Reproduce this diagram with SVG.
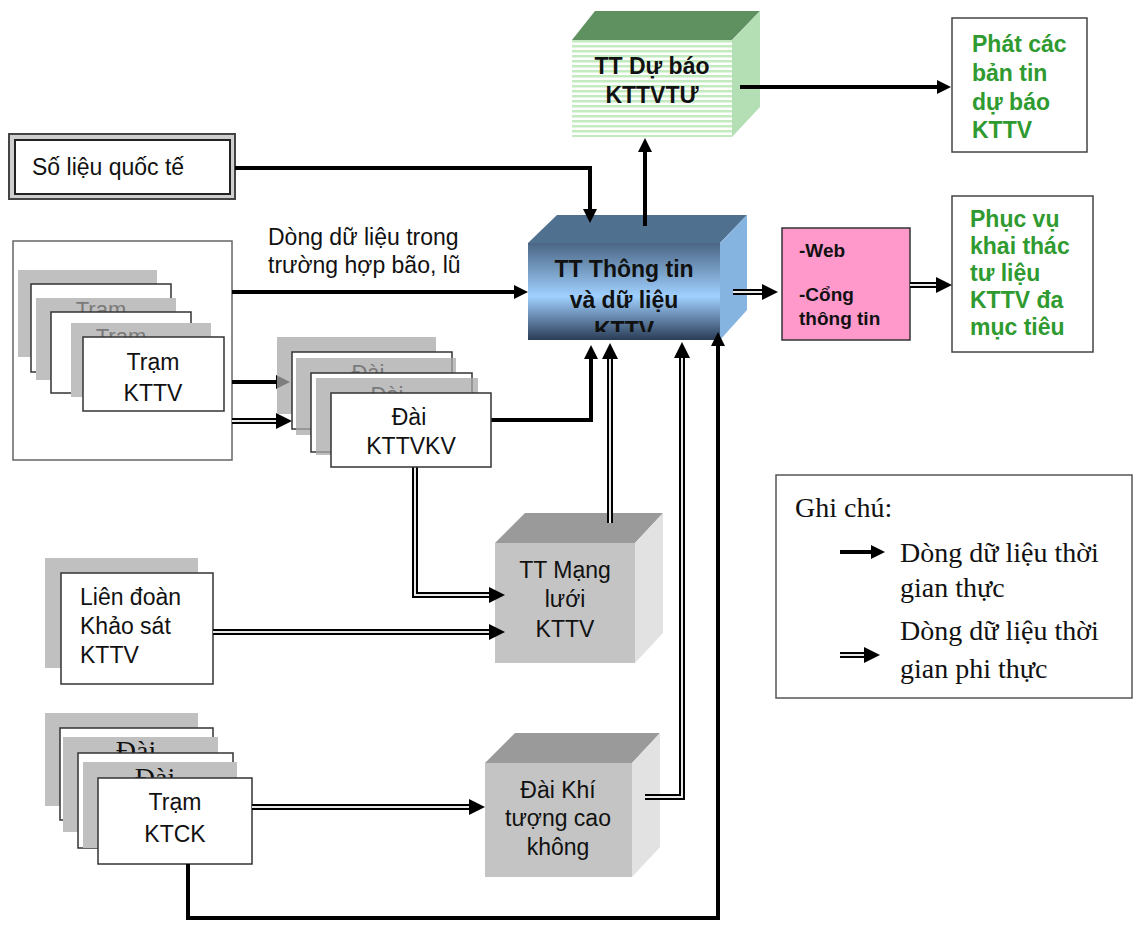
<svg xmlns="http://www.w3.org/2000/svg" width="1134" height="926" viewBox="0 0 1134 926">
<defs>
  <marker id="ah" markerUnits="userSpaceOnUse" markerWidth="15" markerHeight="15" refX="0" refY="7" orient="auto">
    <path d="M0,0 L14,7 L0,14 z" fill="#000"/>
  </marker>
  <marker id="ah2" markerUnits="userSpaceOnUse" markerWidth="17" markerHeight="17" refX="0" refY="8" orient="auto">
    <path d="M0,0 L16,8 L0,16 z" fill="#000"/>
  </marker>
  <linearGradient id="blueFront" x1="0" y1="0" x2="0" y2="1">
    <stop offset="0" stop-color="#4a6684"/>
    <stop offset="0.55" stop-color="#a0d0ff"/>
    <stop offset="1" stop-color="#2a3c56"/>
  </linearGradient>
  <pattern id="stripes" patternUnits="userSpaceOnUse" width="10" height="5">
    <rect width="10" height="5" fill="#ffffff"/>
    <rect width="10" height="2.5" fill="#c4eac0"/>
  </pattern>
  <clipPath id="ttClip"><rect x="528" y="243" width="192" height="89"/></clipPath>
  <style>
    .sans{font-family:"Liberation Sans",Arial,sans-serif;font-size:23px;fill:#111}
    .bold{font-weight:bold}
    .green{fill:#2f9a2f;font-weight:bold}
    .ghost{fill:#7a7a7a;font-size:22px}
    .pink{font-size:19px}
    .serif{font-family:"Liberation Serif","Times New Roman",serif;font-size:28px;fill:#111}
    .card{fill:#fff;stroke:#333;stroke-width:1.5}
    .shadow{fill:#c0c0c0}
    .box{fill:#fff;stroke:#444;stroke-width:1.5}
    .solid{fill:none;stroke:#000;stroke-width:4;marker-end:url(#ah)}
    .dblO{fill:none;stroke:#000;stroke-width:6;marker-end:url(#ah2);stroke-linejoin:miter}
    .dblI{fill:none;stroke:#e8e8e8;stroke-width:2;stroke-linejoin:miter}
  </style>
</defs>
<rect width="1134" height="926" fill="#fff"/>

<!-- TT Dự báo KTTVTƯ (green cube) -->
<g id="tt-du-bao">
  <polygon points="572,40 595,11 760,11 732,40" fill="#5f9060"/>
  <polygon points="732,40 760,11 760,107 732,137" fill="#b4deb4"/>
  <rect x="572" y="40" width="160" height="97" fill="url(#stripes)"/>
  <text class="sans bold" x="652" y="74" text-anchor="middle">TT Dự báo</text>
  <text class="sans bold" x="652" y="103" text-anchor="middle">KTTVTƯ</text>
</g>

<!-- Phát các bản tin -->
<g id="phat-ban-tin">
  <rect class="box" x="952" y="18" width="135" height="134"/>
  <text class="sans green" x="972" y="52">Phát các</text>
  <text class="sans green" x="972" y="81">bản tin</text>
  <text class="sans green" x="972" y="110">dự báo</text>
  <text class="sans green" x="972" y="138">KTTV</text>
</g>

<!-- Số liệu quốc tế -->
<g id="so-lieu-quoc-te">
  <rect x="9" y="134" width="226" height="65" fill="#cfcfcf" stroke="#444" stroke-width="2"/>
  <rect x="15" y="140" width="215" height="54" fill="#fff" stroke="#222" stroke-width="2"/>
  <text class="sans" x="32" y="175">Số liệu quốc tế</text>
</g>

<!-- TT Thông tin và dữ liệu KTTV (blue cube) -->
<g id="tt-thong-tin">
  <polygon points="528,243 557,215 747,215 720,243" fill="#50708f"/>
  <polygon points="720,243 747,215 747,310 720,340" fill="#86b4e0"/>
  <rect x="528" y="243" width="192" height="97" fill="url(#blueFront)"/>
  <text class="sans bold" x="624" y="277" text-anchor="middle">TT Thông tin</text>
  <text class="sans bold" x="624" y="308" text-anchor="middle">và dữ liệu</text>
  <text class="sans bold" x="624" y="338" text-anchor="middle" clip-path="url(#ttClip)">KTTV</text>
</g>

<!-- Web / Cổng thông tin -->
<g id="web-cong-thong-tin">
  <rect x="782" y="228" width="128" height="112" fill="#ff99cc" stroke="#333" stroke-width="1.5"/>
  <text class="sans bold pink" x="799" y="257">-Web</text>
  <text class="sans bold pink" x="799" y="301">-Cổng</text>
  <text class="sans bold pink" x="799" y="325">thông tin</text>
</g>

<!-- Phục vụ khai thác -->
<g id="phuc-vu">
  <rect class="box" x="952" y="196" width="141" height="156"/>
  <text class="sans green" x="970" y="227">Phục vụ</text>
  <text class="sans green" x="970" y="254">khai thác</text>
  <text class="sans green" x="970" y="281">tư liệu</text>
  <text class="sans green" x="970" y="308">KTTV đa</text>
  <text class="sans green" x="970" y="335">mục tiêu</text>
</g>

<!-- Trạm KTTV stack -->
<g id="tram-kttv">
  <rect x="13" y="241" width="219" height="219" fill="#fff" stroke="#666" stroke-width="1.5"/>
  <rect class="shadow" x="18" y="270" width="139" height="87"/>
  <rect class="card" x="31" y="284" width="140" height="88"/>
  <rect class="shadow" x="36" y="298" width="140" height="82"/>
  <text class="sans ghost" x="101" y="317" text-anchor="middle">Trạm</text>
  <rect class="card" x="51" y="312" width="140" height="81"/>
  <rect class="shadow" x="71" y="323" width="140" height="74"/>
  <text class="sans ghost" x="121" y="344" text-anchor="middle">Trạm</text>
  <rect class="card" x="83" y="337" width="141" height="74"/>
  <text class="sans" x="153" y="370" text-anchor="middle">Trạm</text>
  <text class="sans" x="153" y="401" text-anchor="middle">KTTV</text>
</g>

<!-- Liên đoàn Khảo sát KTTV -->
<g id="lien-doan">
  <rect class="shadow" x="45" y="558" width="153" height="110"/>
  <rect class="card" x="61" y="573" width="152" height="111"/>
  <text class="sans" x="80" y="605">Liên đoàn</text>
  <text class="sans" x="80" y="634">Khảo sát</text>
  <text class="sans" x="80" y="663">KTTV</text>
</g>

<!-- TT Mạng lưới KTTV -->
<g id="tt-mang-luoi">
  <polygon points="495,543 525,513 663,513 635,543" fill="#9a9a9a"/>
  <polygon points="635,543 663,513 663,633 635,663" fill="#e2e2e2"/>
  <rect x="495" y="543" width="140" height="120" fill="#c4c4c4"/>
  <text class="sans" x="565" y="578" text-anchor="middle">TT Mạng</text>
  <text class="sans" x="565" y="607" text-anchor="middle">lưới</text>
  <text class="sans" x="565" y="637" text-anchor="middle">KTTV</text>
</g>

<!-- Trạm KTCK stack -->
<g id="tram-ktck">
  <rect class="shadow" x="45" y="713" width="153" height="93"/>
  <rect class="card" x="60" y="728" width="153" height="92"/>
  <rect class="shadow" x="63" y="737" width="155" height="95"/>
  <text class="serif ghost" x="136" y="760" text-anchor="middle">Đài</text>
  <rect class="card" x="78" y="753" width="155" height="95"/>
  <rect class="shadow" x="83" y="762" width="154" height="86"/>
  <text class="serif ghost" x="155" y="787" text-anchor="middle">Đài</text>
  <rect class="card" x="98" y="778" width="154" height="86"/>
  <text class="sans" x="175" y="810" text-anchor="middle">Trạm</text>
  <text class="sans" x="175" y="842" text-anchor="middle">KTCK</text>
</g>

<!-- Đài Khí tượng cao không -->
<g id="dai-khi-tuong">
  <polygon points="485,763 515,733 660,733 632,763" fill="#9a9a9a"/>
  <polygon points="632,763 660,733 660,847 632,877" fill="#e2e2e2"/>
  <rect x="485" y="763" width="147" height="114" fill="#c4c4c4"/>
  <text class="sans" x="558" y="798" text-anchor="middle">Đài Khí</text>
  <text class="sans" x="558" y="826" text-anchor="middle">tượng cao</text>
  <text class="sans" x="558" y="855" text-anchor="middle">không</text>
</g>

<!-- Connectors -->
<g id="connectors">
  <path class="solid" d="M235,168 H590 V209"/>
  <path class="solid" d="M645,226 V152"/>
  <path class="solid" d="M740,87 H937"/>
  <path class="solid" d="M232,292 H514"/>
  <path class="solid" d="M232,382 H276"/>
  <path class="solid" d="M491,420 H591 V359"/>
  <path class="solid" d="M188,864 V918 H718 V346"/>

  <path class="dblO" d="M232,421 H276"/>
  <path class="dblI" d="M232,421 H276"/>
  <path class="dblO" d="M733,292 H762"/>
  <path class="dblI" d="M733,292 H762"/>
  <path class="dblO" d="M910,285 H936"/>
  <path class="dblI" d="M910,285 H936"/>
  <path class="dblO" d="M415,467 V595 H489"/>
  <path class="dblI" d="M415,467 V595 H489"/>
  <path class="dblO" d="M213,632 H489"/>
  <path class="dblI" d="M213,632 H489"/>
  <path class="dblO" d="M610,523 V359"/>
  <path class="dblI" d="M610,523 V359"/>
  <path class="dblO" d="M252,807 H469"/>
  <path class="dblI" d="M252,807 H469"/>
  <path class="dblO" d="M645,797 H682 V358"/>
  <path class="dblI" d="M645,797 H682 V358"/>

  <text class="sans" x="268" y="245">Dòng dữ liệu trong</text>
  <text class="sans" x="268" y="273">trường hợp bão, lũ</text>
</g>

<!-- Đài KTTVKV stack (drawn above incoming arrows) -->
<g id="dai-kttvkv">
  <rect x="277" y="337" width="159" height="77" fill="#a8a8a8" opacity="0.75"/>
  <rect class="card" x="292" y="352" width="160" height="77"/>
  <rect x="296" y="358" width="160" height="77" fill="#a8a8a8" opacity="0.75"/>
  <text class="sans ghost" x="368" y="380" text-anchor="middle">Đài</text>
  <rect class="card" x="311" y="373" width="161" height="79"/>
  <rect x="316" y="378" width="162" height="77" fill="#a8a8a8" opacity="0.75"/>
  <text class="sans ghost" x="387" y="402" text-anchor="middle">Đài</text>
  <rect class="card" x="331" y="393" width="160" height="74"/>
  <text class="sans" x="409" y="425" text-anchor="middle">Đài</text>
  <text class="sans" x="411" y="454" text-anchor="middle">KTTVKV</text>
</g>

<!-- Legend -->
<g id="legend">
  <rect x="776" y="475" width="356" height="223" fill="#fff" stroke="#555" stroke-width="1.5"/>
  <text class="serif" x="795" y="517">Ghi chú:</text>
  <path class="solid" d="M840,552 H871"/>
  <text class="serif" x="900" y="562">Dòng dữ liệu thời</text>
  <text class="serif" x="900" y="597">gian thực</text>
  <path class="dblO" d="M840,655 H864"/>
  <path class="dblI" d="M840,655 H864"/>
  <text class="serif" x="900" y="640">Dòng dữ liệu thời</text>
  <text class="serif" x="900" y="678">gian phi thực</text>
</g>
</svg>
